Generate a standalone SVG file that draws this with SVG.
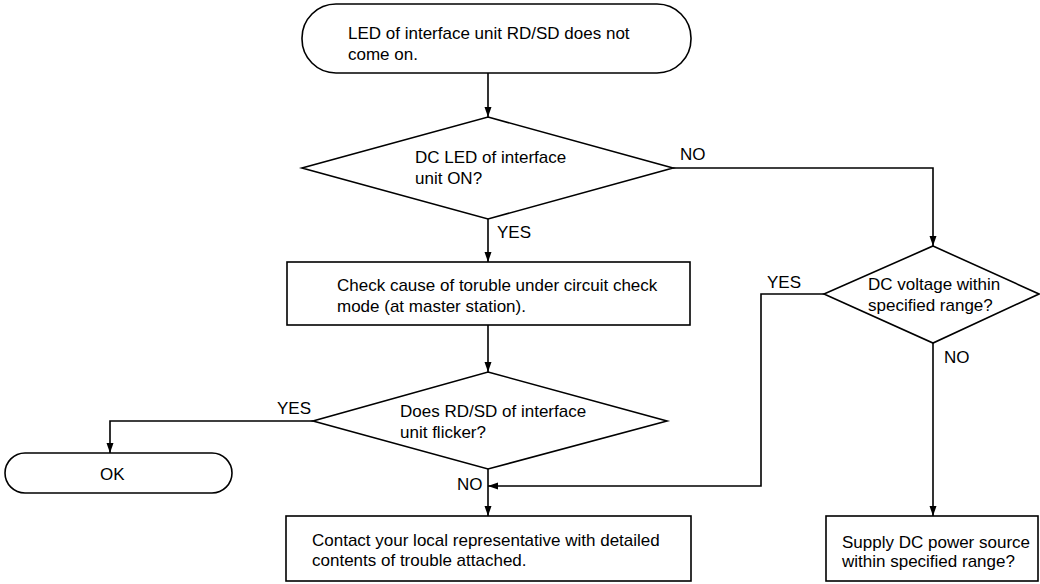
<svg xmlns="http://www.w3.org/2000/svg" width="1040" height="584" viewBox="0 0 1040 584">
<style>
.s{fill:#fff;stroke:#000;stroke-width:1.6}
.c{fill:none;stroke:#000;stroke-width:1.6}
text{font-family:"Liberation Sans",Arial,sans-serif;font-size:17px;fill:#000}
</style>
<defs>
<marker id="ah" viewBox="0 0 10 10" refX="10" refY="5" markerWidth="10" markerHeight="10" markerUnits="userSpaceOnUse" orient="auto">
<path d="M0,1.5 L10,5 L0,8.5 Z" fill="#000"/>
</marker>
</defs>
<rect width="1040" height="584" fill="#fff"/>
<g id="connectors">
<path class="c" d="M488,73 V117" marker-end="url(#ah)"/>
<path class="c" d="M673,168 H933 V246" marker-end="url(#ah)"/>
<path class="c" d="M488,219 V262" marker-end="url(#ah)"/>
<path class="c" d="M488,325 V372" marker-end="url(#ah)"/>
<path class="c" d="M313,421 H110 V453" marker-end="url(#ah)"/>
<path class="c" d="M488,469 V516" marker-end="url(#ah)"/>
<path class="c" d="M824,294 H761 V486 H488" marker-end="url(#ah)"/>
<path class="c" d="M933,343 V516" marker-end="url(#ah)"/>
<text x="680" y="160">NO</text>
<text x="497" y="238">YES</text>
<text x="277" y="414">YES</text>
<text x="457" y="490">NO</text>
<text x="767" y="288">YES</text>
<text x="944" y="363">NO</text>
</g>
<g id="start">
<rect class="s" x="302" y="4" width="389" height="69" rx="34"/>
<text x="348" y="39">LED of interface unit RD/SD does not</text>
<text x="348" y="60">come on.</text>
</g>
<g id="dec1">
<polygon class="s" points="488,117 673,168 488,219 302,168"/>
<text x="415" y="163">DC LED of interface</text>
<text x="415" y="184">unit ON?</text>
</g>
<g id="check">
<rect class="s" x="287" y="262" width="403" height="63"/>
<text x="337" y="291">Check cause of toruble under circuit check</text>
<text x="337" y="312">mode (at master station).</text>
</g>
<g id="dec2">
<polygon class="s" points="488,372 667,421 488,469 313,421"/>
<text x="400" y="417">Does RD/SD of interface</text>
<text x="400" y="438">unit flicker?</text>
</g>
<g id="ok">
<rect class="s" x="5" y="453" width="227" height="40" rx="20"/>
<text x="100" y="480">OK</text>
</g>
<g id="contact">
<rect class="s" x="286" y="516" width="405" height="65"/>
<text x="312" y="546">Contact your local representative with detailed</text>
<text x="312" y="566">contents of trouble attached.</text>
</g>
<g id="dec3">
<polygon class="s" points="933,246 1039,294 933,343 824,294"/>
<text x="868" y="290">DC voltage within</text>
<text x="868" y="311">specified range?</text>
</g>
<g id="supply">
<rect class="s" x="826" y="516" width="212" height="65"/>
<text x="842" y="548">Supply DC power source</text>
<text x="842" y="567">within specified range?</text>
</g>
</svg>
